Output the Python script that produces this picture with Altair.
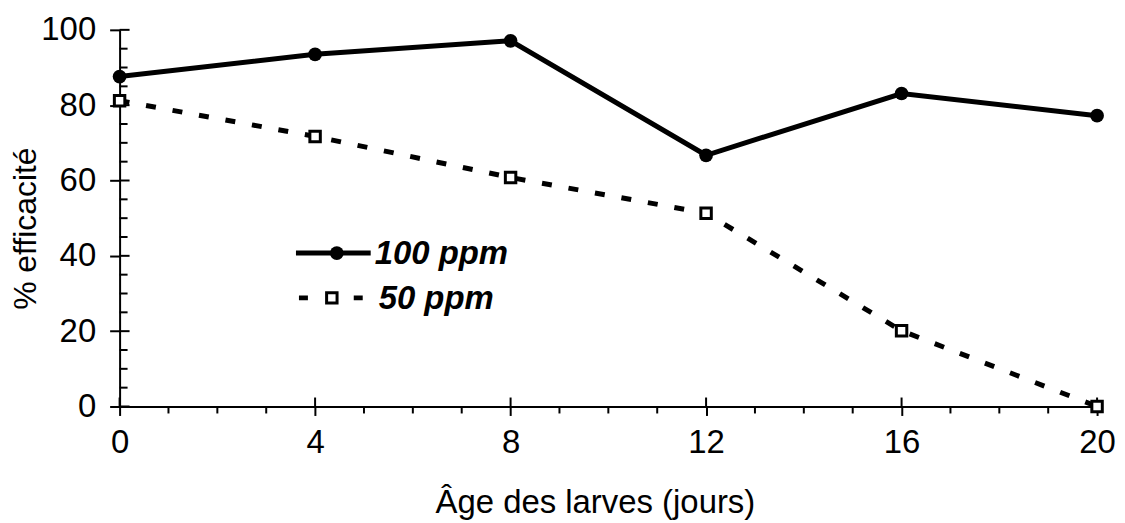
import altair as alt
import pandas as pd

# ---- data ----
age = [0, 4, 8, 12, 16, 20]
eff_100 = [87.6, 93.5, 97.1, 66.7, 83.1, 77.2]
eff_50 = [81.2, 71.7, 60.8, 51.3, 20.1, 0.0]
x_ticks = [0, 4, 8, 12, 16, 20]
x_minor = [1, 2, 3, 5, 6, 7, 9, 10, 11, 13, 14, 15, 17, 18, 19]
y_ticks = [0, 20, 40, 60, 80, 100]
y_minor = [5, 10, 15, 25, 30, 35, 45, 50, 55, 65, 70, 75, 85, 90, 95]
legend_labels = ["100 ppm", "50 ppm"]
x_title = "Âge des larves (jours)"
y_title = "% efficacité"

W, H = 981, 378
FONT = "Liberation Sans"
FS = 33

df100 = pd.DataFrame({"age": age, "eff": eff_100})
df50 = pd.DataFrame({"age": age, "eff": eff_50})

xscale = alt.Scale(domain=[0, 20], nice=False, zero=False)
yscale = alt.Scale(domain=[0, 100], nice=False)

xax = alt.Axis(values=x_ticks, tickSize=9, tickWidth=2, tickColor="black",
               domainColor="black", domainWidth=2, labelFontSize=FS, labelFont=FONT,
               labelColor="black", labelPadding=11, labelFlush=False,
               title=x_title, titleFontSize=FS, titleFont=FONT,
               titleFontWeight="normal", titleColor="black", titlePadding=27,
               titleX=477, grid=False)
yax = alt.Axis(values=y_ticks, tickSize=10, tickWidth=2, tickColor="black",
               domainColor="black", domainWidth=2, labelFontSize=FS, labelFont=FONT,
               labelColor="black", labelPadding=14, labelFlush=False,
               title=y_title, titleFontSize=32, titleFont=FONT,
               titleFontWeight="normal", titleColor="black",
               titleX=-94, titleY=H / 2 + 10, titleBaseline="middle", titleAngle=270,
               grid=False)


def X(field):
    return alt.X(field, scale=xscale, axis=xax)


def Y(field):
    return alt.Y(field, scale=yscale, axis=yax)


line100 = alt.Chart(df100).mark_line(color="black", strokeWidth=5).encode(
    x=X("age:Q"), y=Y("eff:Q"))
pts100 = alt.Chart(df100).mark_point(shape="circle", filled=True, color="black",
                                     opacity=1, size=190).encode(
    x=X("age:Q"), y=Y("eff:Q"))
line50 = alt.Chart(df50).mark_line(color="black", strokeWidth=5,
                                   strokeDash=[10, 17]).encode(
    x=X("age:Q"), y=Y("eff:Q"))
pts50 = alt.Chart(df50).mark_point(shape="square", filled=False, fill="white",
                                   fillOpacity=1, stroke="black", strokeWidth=3,
                                   opacity=1, size=110).encode(
    x=X("age:Q"), y=Y("eff:Q"))

# inward halves of major ticks and minor ticks
y_major_in = alt.Chart(pd.DataFrame({"v": y_ticks})).mark_rule(color="black", strokeWidth=2).encode(
    y=Y("v:Q"), x=alt.value(0), x2=alt.value(10))
y_minor_in = alt.Chart(pd.DataFrame({"v": y_minor})).mark_rule(color="black", strokeWidth=2).encode(
    y=Y("v:Q"), x=alt.value(0), x2=alt.value(8))
x_major_in = alt.Chart(pd.DataFrame({"v": x_ticks})).mark_rule(color="black", strokeWidth=2).encode(
    x=X("v:Q"), y=alt.value(H - 9), y2=alt.value(H))
x_minor_out = alt.Chart(pd.DataFrame({"v": x_minor})).mark_rule(color="black", strokeWidth=2).encode(
    x=X("v:Q"), y=alt.value(H), y2=alt.value(H + 7))

# manual legend
one = pd.DataFrame({"a": [0]})
leg1_line = alt.Chart(one).mark_rule(color="black", strokeWidth=5).encode(
    x=alt.value(177), x2=alt.value(252), y=alt.value(224))
leg1_pt = alt.Chart(one).mark_point(shape="circle", filled=True, color="black",
                                    opacity=1, size=190).encode(
    x=alt.value(218), y=alt.value(224))
leg1_txt = alt.Chart(one).mark_text(align="left", baseline="middle", font=FONT,
                                    fontSize=33, fontWeight="bold", fontStyle="italic",
                                    color="black").encode(
    x=alt.value(256), y=alt.value(225), text=alt.value(legend_labels[0]))
leg2_line = alt.Chart(one).mark_rule(color="black", strokeWidth=5,
                                     strokeDash=[9, 46]).encode(
    x=alt.value(180), x2=alt.value(244), y=alt.value(269))
leg2_pt = alt.Chart(one).mark_point(shape="square", filled=False, fill="white",
                                    fillOpacity=1, stroke="black", strokeWidth=3,
                                    opacity=1, size=110).encode(
    x=alt.value(213), y=alt.value(269))
leg2_txt = alt.Chart(one).mark_text(align="left", baseline="middle", font=FONT,
                                    fontSize=33, fontWeight="bold", fontStyle="italic",
                                    color="black").encode(
    x=alt.value(260), y=alt.value(270), text=alt.value(legend_labels[1]))

chart = alt.layer(
    line100, line50, y_major_in, y_minor_in, x_major_in, x_minor_out,
    pts100, pts50,
    leg1_line, leg1_pt, leg1_txt, leg2_line, leg2_pt, leg2_txt,
).properties(
    width=W, height=H,
    autosize=alt.AutoSizeParams(type="none"),
    padding={"left": 112, "top": 21, "right": 20, "bottom": 115},
    background="white",
).configure_view(stroke=None)

chart.save("out.html", embed_options={"renderer": "svg", "actions": False})
